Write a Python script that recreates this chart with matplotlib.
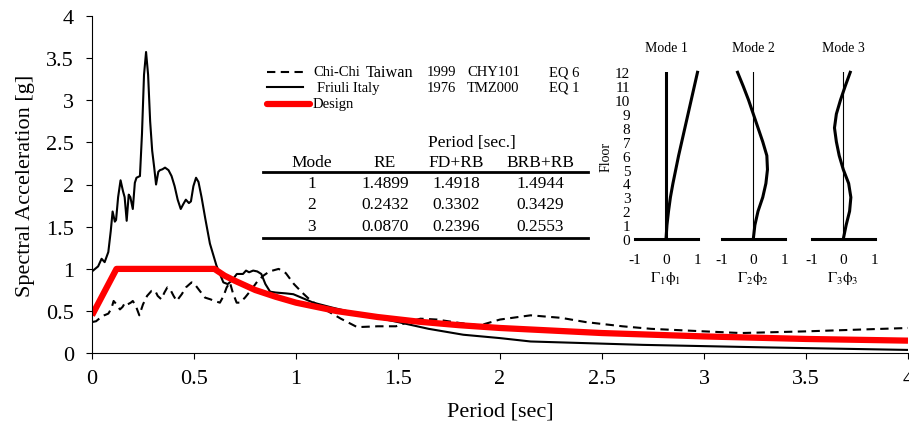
import matplotlib
matplotlib.use("Agg")
import matplotlib.pyplot as plt

plt.rcParams['font.family'] = ['Liberation Serif', 'DejaVu Serif']
plt.rcParams['mathtext.fontset'] = 'stix'

# Friuli Italy 1976 TMZ000 (EQ 1)
friuli_T = [0.005, 0.03, 0.047, 0.062, 0.08, 0.092, 0.101, 0.112, 0.118, 0.128, 0.14, 0.152, 0.16,
            0.17, 0.18, 0.188, 0.2, 0.21, 0.218, 0.235, 0.245, 0.255, 0.265, 0.275, 0.285, 0.295,
            0.305, 0.314, 0.325, 0.333, 0.345, 0.358, 0.375, 0.39, 0.405, 0.42, 0.435, 0.448, 0.46,
            0.475, 0.485, 0.497, 0.51, 0.522, 0.537, 0.555, 0.578, 0.61, 0.644, 0.665, 0.685, 0.71,
            0.74, 0.755, 0.77, 0.79, 0.81, 0.83, 0.85, 0.873, 0.9, 0.95, 0.987, 1.085, 1.18, 1.25,
            1.4, 1.5, 1.65, 1.82, 2.0, 2.15, 2.7, 3.3, 4.0]
friuli_Sa = [0.98, 1.03, 1.12, 1.08, 1.2, 1.45, 1.68, 1.56, 1.58, 1.85, 2.05, 1.92, 1.85,
             1.57, 1.88, 1.85, 1.71, 2.02, 2.08, 2.1, 2.6, 3.3, 3.57, 3.3, 2.75, 2.4,
             2.2, 2.0, 2.15, 2.17, 2.18, 2.2, 2.17, 2.1, 1.98, 1.82, 1.71, 1.77, 1.82,
             1.78, 1.8, 1.98, 2.08, 2.03, 1.85, 1.6, 1.3, 1.04, 0.84, 0.82, 0.86, 0.94,
             0.94, 0.98, 0.96, 0.98, 0.97, 0.94, 0.82, 0.73, 0.72, 0.71, 0.70, 0.60, 0.54, 0.50,
             0.42, 0.37, 0.29, 0.22, 0.18, 0.14, 0.10, 0.07, 0.04]

# Chi-Chi Taiwan 1999 CHY101 (EQ 6)
chichi_T = [0.0, 0.02, 0.04, 0.06, 0.08, 0.095, 0.106, 0.12, 0.137, 0.15, 0.162, 0.175, 0.19, 0.2,
            0.215, 0.232, 0.25, 0.27, 0.292, 0.31, 0.322, 0.34, 0.355, 0.369, 0.385, 0.4, 0.415,
            0.44, 0.46, 0.488, 0.5, 0.525, 0.554, 0.58, 0.6, 0.627, 0.645, 0.66, 0.676, 0.69,
            0.709, 0.725, 0.75, 0.78, 0.81, 0.84, 0.87, 0.915, 0.95, 0.99, 1.03, 1.07, 1.12,
            1.22, 1.3, 1.4, 1.49, 1.55, 1.61, 1.69, 1.8, 1.9, 2.0, 2.15, 2.3, 2.42, 2.6, 2.74,
            3.0, 3.18, 3.5, 4.0]
chichi_Sa = [0.37, 0.38, 0.42, 0.45, 0.47, 0.53, 0.62, 0.58, 0.52, 0.55, 0.6, 0.58, 0.6, 0.62,
             0.56, 0.45, 0.58, 0.68, 0.74, 0.74, 0.68, 0.64, 0.72, 0.78, 0.75, 0.68, 0.62,
             0.7, 0.78, 0.84, 0.83, 0.75, 0.66, 0.64, 0.62, 0.6, 0.68, 0.78, 0.84, 0.72,
             0.6, 0.6, 0.66, 0.75, 0.85, 0.92, 0.97, 1.0, 0.95, 0.82, 0.72, 0.63, 0.55,
             0.41, 0.31, 0.32, 0.32, 0.37, 0.41, 0.40, 0.36, 0.33, 0.40, 0.45, 0.42, 0.37, 0.32, 0.29,
             0.26, 0.24, 0.26, 0.30]

# Design spectrum
design_T = [0.0, 0.12, 0.6, 0.65, 0.7, 0.8, 0.9, 1.0, 1.2, 1.4, 1.6, 1.8, 2.0, 2.5, 3.0, 3.5, 4.0]
design_Sa = [0.45, 1.0, 1.0, 0.92, 0.86, 0.75, 0.67, 0.6, 0.5, 0.43, 0.375, 0.333, 0.3, 0.24, 0.2,
             0.17, 0.15]

# period table
table_cols = ['Mode', 'RE', 'FD+RB', 'BRB+RB']
table_rows = [['1', '1.4899', '1.4918', '1.4944'],
              ['2', '0.2432', '0.3302', '0.3429'],
              ['3', '0.0870', '0.2396', '0.2553']]

# mode shapes
floors = list(range(13))
mode1 = [0, 0.03, 0.08, 0.14, 0.22, 0.31, 0.40, 0.50, 0.60, 0.70, 0.80, 0.90, 1.0]
mode2 = [0, 0.05, 0.15, 0.30, 0.40, 0.45, 0.43, 0.30, 0.15, 0.0, -0.15, -0.32, -0.5]
mode3 = [0, 0.09, 0.20, 0.24, 0.17, 0.0, -0.13, -0.22, -0.28, -0.22, -0.09, 0.06, 0.22]

W, H = 909, 427
fig = plt.figure(figsize=(W / 100, H / 100), dpi=100)


def px_axes(x0, y0, x1, y1):
    # pixel box (left, top, right, bottom) -> figure axes
    return fig.add_axes([x0 / W, 1 - y1 / H, (x1 - x0) / W, (y1 - y0) / H])


def px(x, y):
    return x / W, 1 - y / H


ax = px_axes(92, 16.7, 908, 354.3)
ax.plot(chichi_T, chichi_Sa, color='black', lw=1.5, dashes=(4, 2.6))
ax.plot(friuli_T, friuli_Sa, color='black', lw=1.5)
ax.plot(design_T, design_Sa, color='red', lw=4.5, solid_capstyle='butt')
ax.set_xlim(0, 4)
ax.set_ylim(0, 4)
ticks = [0, 0.5, 1, 1.5, 2, 2.5, 3, 3.5, 4]
labels = ['0', '0.5', '1', '1.5', '2', '2.5', '3', '3.5', '4']
ax.set_xticks(ticks)
ax.set_xticklabels(labels)
ax.set_yticks(ticks)
ax.set_yticklabels(labels)
ax.spines['top'].set_visible(False)
ax.spines['right'].set_visible(False)
ax.tick_params(direction='out', length=4, width=0.8, labelsize=16)
ax.tick_params(axis='y', pad=9)
ax.tick_params(axis='x', pad=7)
ax.set_xlabel('Period [sec]', fontsize=16, labelpad=10)
ax.set_ylabel('Spectral Acceleration [g]', fontsize=16, labelpad=8)

# legend, drawn by hand in pixel coords
for y, x_end, kw in [(72.7, 303, dict(color='black', lw=1.5, dashes=(4, 2.6))),
                     (88.3, 303, dict(color='black', lw=1.5)),
                     (104.5, 310, dict(color='red', lw=4.5, solid_capstyle='round'))]:
    fig.add_artist(plt.Line2D([266.7 / W, x_end / W], [1 - y / H, 1 - y / H], **kw))

fig.text(*px(313, 72.7), 'Chi-Chi', fontsize=10.5, va='center')
fig.text(*px(366, 72.7), 'Taiwan', fontsize=11.7, va='center')
fig.text(*px(316.7, 88.3), 'Friuli Italy', fontsize=10.5, va='center')
fig.text(*px(313, 104.5), 'Design', fontsize=10.5, va='center')
for y, yr, st, eq in [(72.7, '1999', 'CHY101', 'EQ 6'), (88.3, '1976', 'TMZ000', 'EQ 1')]:
    fig.text(*px(426.7, y), yr, fontsize=10.5, va='center')
    fig.text(*px(467, y), st, fontsize=10.5, va='center')
    fig.text(*px(549, y), eq, fontsize=10.5, va='center')

# table
fig.text(*px(472, 143), 'Period [sec.]', fontsize=12.5, ha='center', va='center')
col_x = [312, 385, 456, 540]
for cx, name in zip(col_x, table_cols):
    fig.text(*px(cx, 163.3), name, fontsize=12.5, ha='center', va='center')
for ry, row in zip([184, 205.5, 227], table_rows):
    for cx, val in zip(col_x, row):
        fig.text(*px(cx, ry), val, fontsize=12.5, ha='center', va='center')
for ly in [172.7, 238.5]:
    fig.add_artist(plt.Line2D([263 / W, 588 / W], [1 - ly / H, 1 - ly / H], color='black', lw=2))

# mode shape insets
shapes = [mode1, mode2, mode3]
centers = [666, 753.3, 843.3]
for i, (shape, c) in enumerate(zip(shapes, centers)):
    a = px_axes(c - 31.5, 73.3, c + 31.5, 240)
    a.set_xlim(-1, 1)
    a.set_ylim(0, 12)
    a.axhline(0, color='black', lw=2.2, clip_on=False)
    a.plot([0, 0], [0, 12], color='black', lw=2.2 if i == 0 else 0.8)
    a.plot(shape, floors, color='black', lw=2.2, clip_on=False)
    for s in a.spines.values():
        s.set_visible(False)
    a.set_xticks([-1, 0, 1])
    a.set_xticklabels(['-1', '0', '1'])
    a.tick_params(axis='x', length=0, pad=10, labelsize=11)
    a.set_title('Mode %d' % (i + 1), fontsize=10, pad=15)
    a.set_xlabel(r'$\mathrm{\Gamma_%d\phi_%d}$' % (i + 1, i + 1), fontsize=11, labelpad=2)
    if i == 0:
        a.set_yticks(floors)
        a.set_yticklabels([str(f) for f in floors])
        a.tick_params(axis='y', length=0, pad=3, labelsize=11)
        a.set_ylabel('Floor', fontsize=10, labelpad=2)
    else:
        a.set_yticks([])

fig.savefig('out.png', dpi=100)
